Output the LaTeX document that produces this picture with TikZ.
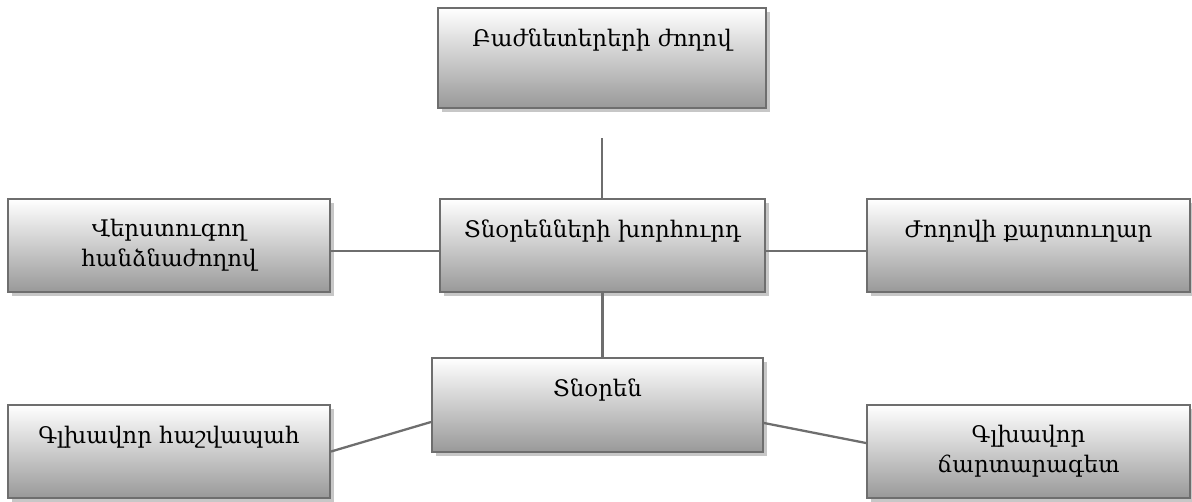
\documentclass[tikz,border=0pt]{standalone}
\usepackage{fontspec}
\setmainfont{DejaVu Serif}
\usepackage{tikz}
\usetikzlibrary{shadows}
\usetikzlibrary{positioning}
\tikzset{
  orgbox/.style = {rectangle, draw=black!57, line width=1.2pt, inner sep=0pt,
    align=center, font=\fontsize{13}{17}\selectfont,
    top color=white, bottom color=black!40,
    drop shadow={shadow xshift=0.08cm, shadow yshift=-0.08cm, fill=black!22,
      opacity=1}},
  toptext/.style = {text height=0.77cm, text depth=#1},
  link/.style = {draw=black!57, line width=1.3pt}
}
\begin{document}
\begin{tikzpicture}[x=0.02cm, y=-0.02cm]
  \useasboundingbox (0,0) rectangle (1192,501);
  % top row
  \node (meeting) [orgbox, minimum width=6.56cm, toptext=1.23cm]
    at (602,58) {Բաժնետերերի ժողով};
  % middle row
  \node (audit) [orgbox, minimum width=6.44cm, minimum height=1.86cm]
    at (169,245.5) {Վերստուգող\\ հանձնաժողով};
  \node (board) [orgbox, minimum width=6.5cm, toptext=1.09cm]
    at (602.5,245.5) {Տնօրենների խորհուրդ};
  \node (secretary) [orgbox, minimum width=6.46cm, toptext=1.09cm]
    at (1028.5,245.5) {Ժողովի քարտուղար};
  % bottom row
  \node (director) [orgbox, minimum width=6.62cm, toptext=1.11cm]
    at (597.5,405) {Տնօրեն};
  \node (accountant) [orgbox, minimum width=6.44cm, toptext=1.09cm]
    at (169,451.5) {Գլխավոր հաշվապահ};
  \node (engineer) [orgbox, minimum width=6.46cm, minimum height=1.86cm]
    at (1028.5,451.5) {Գլխավոր\\ ճարտարագետ};
  % links
  \draw [link] ([yshift=-0.58cm]meeting.south) -- (meeting.south |- board.north);
  \draw [link] ([yshift=-0.11cm]audit.east) -- ([yshift=-0.11cm]board.west);
  \draw [link] ([yshift=-0.11cm]board.east) -- ([yshift=-0.11cm]secretary.west);
  \draw [link] (board.south) -- (board.south |- director.north);
  \draw [link] (accountant.east) -- ([yshift=-0.34cm]director.west);
  \draw [link] ([yshift=-0.36cm]director.east) -- ([yshift=0.17cm]engineer.west);
\end{tikzpicture}
\end{document}
